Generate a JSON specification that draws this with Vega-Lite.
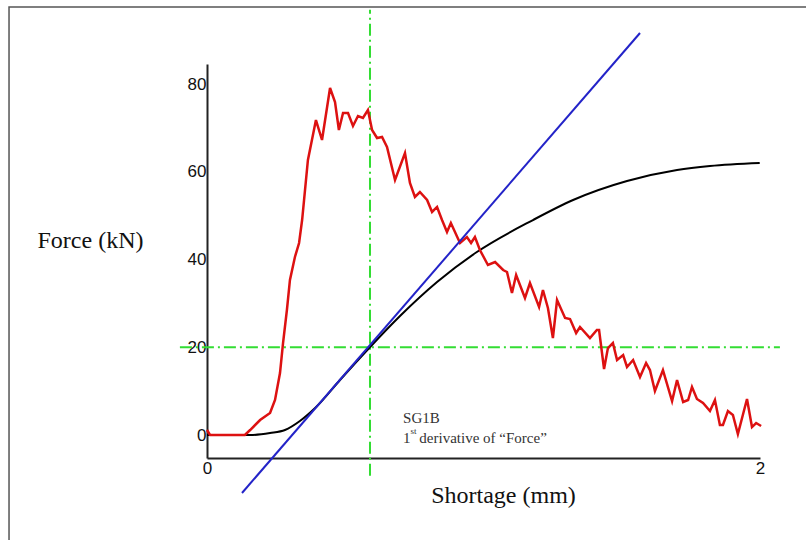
{
  "$schema": "https://vega.github.io/schema/vega-lite/v6.json",
  "width": 553,
  "height": 394,
  "autosize": {"type": "none"},
  "padding": {"left": 207, "top": 64, "right": 46, "bottom": 82},
  "background": "white",
  "config": {
    "view": {"stroke": null},
    "axis": {"grid": false, "ticks": false, "domainColor": "#222", "domainWidth": 2, "labelFont": "Liberation Sans", "labelFontSize": 17, "labelColor": "#111", "titleFont": "Liberation Serif", "titleFontWeight": "normal", "titleFontSize": 24, "titleColor": "#111"}
  },
  "datasets": {
    "red": [
      {"s":0,"f":1.14},{"s":0.011,"f":0},{"s":0.137,"f":0},{"s":0.156,"f":1.14},{"s":0.192,"f":3.42},{"s":0.228,"f":5.01},{"s":0.246,"f":7.98},{"s":0.264,"f":14.13},{"s":0.275,"f":20.97},{"s":0.289,"f":28.49},{"s":0.300,"f":35.33},{"s":0.318,"f":40.57},{"s":0.333,"f":43.76},{"s":0.344,"f":49.0},{"s":0.351,"f":53.56},{"s":0.365,"f":62.68},{"s":0.394,"f":71.79},{"s":0.416,"f":67.24},{"s":0.445,"f":79.09},{"s":0.463,"f":75.9},{"s":0.477,"f":69.52},{"s":0.492,"f":73.39},{"s":0.510,"f":73.39},{"s":0.528,"f":70.43},{"s":0.546,"f":72.71},{"s":0.564,"f":72.25},{"s":0.582,"f":74.07},{"s":0.597,"f":69.52},{"s":0.615,"f":67.69},{"s":0.633,"f":67.92},{"s":0.651,"f":65.64},{"s":0.680,"f":58.12},{"s":0.716,"f":64.27},{"s":0.734,"f":57.44},{"s":0.752,"f":54.25},{"s":0.770,"f":55.38},{"s":0.796,"f":53.56},{"s":0.814,"f":50.83},{"s":0.832,"f":51.97},{"s":0.850,"f":49.0},{"s":0.868,"f":46.27},{"s":0.882,"f":48.32},{"s":0.915,"f":43.76},{"s":0.940,"f":45.13},{"s":0.955,"f":43.76},{"s":0.969,"f":45.13},{"s":0.987,"f":42.17},{"s":1.016,"f":38.75},{"s":1.042,"f":39.43},{"s":1.071,"f":37.61},{"s":1.085,"f":37.15},{"s":1.103,"f":32.36},{"s":1.118,"f":36.47},{"s":1.150,"f":31.23},{"s":1.168,"f":34.64},{"s":1.201,"f":29.17},{"s":1.215,"f":33.05},{"s":1.233,"f":28.95},{"s":1.251,"f":22.11},{"s":1.266,"f":30.77},{"s":1.295,"f":26.67},{"s":1.313,"f":26.44},{"s":1.335,"f":23.25},{"s":1.349,"f":24.62},{"s":1.385,"f":22.11},{"s":1.410,"f":23.93},{"s":1.418,"f":23.93},{"s":1.436,"f":15.04},{"s":1.450,"f":19.83},{"s":1.468,"f":20.97},{"s":1.483,"f":17.09},{"s":1.505,"f":18.23},{"s":1.519,"f":15.5},{"s":1.541,"f":17.09},{"s":1.566,"f":13.22},{"s":1.588,"f":16.41},{"s":1.602,"f":14.81},{"s":1.620,"f":10.03},{"s":1.649,"f":14.81},{"s":1.682,"f":7.75},{"s":1.700,"f":12.54},{"s":1.722,"f":7.52},{"s":1.740,"f":7.98},{"s":1.754,"f":10.94},{"s":1.772,"f":8.21},{"s":1.794,"f":7.29},{"s":1.819,"f":5.47},{"s":1.837,"f":7.98},{"s":1.855,"f":2.28},{"s":1.866,"f":2.28},{"s":1.884,"f":5.47},{"s":1.902,"f":4.56},{"s":1.920,"f":0.23},{"s":1.953,"f":8.21},{"s":1.971,"f":1.82},{"s":1.986,"f":2.74},{"s":2.004,"f":2.05}
    ],
    "black": [
      {"s":0,"f":0},{"s":0.156,"f":0},{"s":0.228,"f":0.46},{"s":0.282,"f":1.14},{"s":0.336,"f":3.19},{"s":0.391,"f":6.15},{"s":0.481,"f":12.54},{"s":0.590,"f":20.06},{"s":0.698,"f":27.12},{"s":0.832,"f":34.87},{"s":0.976,"f":41.71},{"s":1.179,"f":49.0},{"s":1.324,"f":53.56},{"s":1.519,"f":57.89},{"s":1.700,"f":60.4},{"s":1.819,"f":61.31},{"s":1.999,"f":62.0}
    ],
    "blue": [{"s":0.1266,"f":-13.22},{"s":1.566,"f":91.62}],
    "gv": [{"s":0.5895,"f":-9.3},{"s":0.5895,"f":96.9}],
    "gh": [{"s":-0.098,"f":20},{"s":2.072,"f":20}],
    "frame": [{"x1":-0.716,"x2":3.0,"y1":97.55,"y2":-40}],
    "ann": [{"s":0.709,"f":2.735,"t":"SG1B"},{"s":0.709,"f":-1.82,"t":"1"},{"s":0.768,"f":-1.82,"t":"derivative of “Force”"}],
    "sup": [{"s":0.736,"f":0.3,"t":"st"}]
  },
  "layer": [
    {
      "data": {"name": "frame"},
      "mark": {"type": "rect", "fill": null, "stroke": "#555", "strokeWidth": 1.5, "clip": false},
      "encoding": {
        "x": {"field": "x1", "type": "quantitative", "scale": {"domain": [0, 2], "nice": false, "zero": false}, "axis": {"values": [0, 2], "format": "d", "labelFlush": false, "labelPadding": 2, "labelFontSize": 17, "title": "Shortage (mm)", "titleX": 296, "titleY": 37, "titleBaseline": "middle", "titleAlign": "center"}},
        "x2": {"field": "x2"},
        "y": {"field": "y1", "type": "quantitative", "scale": {"domain": [-5.24, 84.56], "nice": false, "zero": false}, "axis": {"values": [0, 20, 40, 60, 80], "format": "d", "labelFlush": false, "labelPadding": 1, "labelFontSize": 17, "title": "Force (kN)", "titleAngle": 0, "titleX": -117, "titleY": 176, "titleAlign": "center", "titleBaseline": "middle"}},
        "y2": {"field": "y2"}
      }
    },
    {
      "data": {"name": "gv"},
      "mark": {"type": "line", "color": "#33dd33", "strokeWidth": 2, "strokeDash": [12, 4, 2, 4], "clip": false},
      "encoding": {"x": {"field": "s", "type": "quantitative"}, "y": {"field": "f", "type": "quantitative"}}
    },
    {
      "data": {"name": "gh"},
      "mark": {"type": "line", "color": "#33dd33", "strokeWidth": 2, "strokeDash": [12, 4, 2, 4], "clip": false},
      "encoding": {"x": {"field": "s", "type": "quantitative"}, "y": {"field": "f", "type": "quantitative"}}
    },
    {
      "data": {"name": "black"},
      "mark": {"type": "line", "color": "#000000", "strokeWidth": 2, "interpolate": "monotone", "clip": false},
      "encoding": {"x": {"field": "s", "type": "quantitative"}, "y": {"field": "f", "type": "quantitative"}}
    },
    {
      "data": {"name": "red"},
      "mark": {"type": "line", "color": "#dd1111", "strokeWidth": 2.5, "clip": false},
      "encoding": {"x": {"field": "s", "type": "quantitative"}, "y": {"field": "f", "type": "quantitative"}}
    },
    {
      "data": {"name": "blue"},
      "mark": {"type": "line", "color": "#2323c8", "strokeWidth": 2, "clip": false},
      "encoding": {"x": {"field": "s", "type": "quantitative"}, "y": {"field": "f", "type": "quantitative"}}
    },
    {
      "data": {"name": "ann"},
      "mark": {"type": "text", "align": "left", "baseline": "alphabetic", "font": "Liberation Serif", "fontSize": 15, "color": "#333"},
      "encoding": {"x": {"field": "s", "type": "quantitative"}, "y": {"field": "f", "type": "quantitative"}, "text": {"field": "t"}}
    },
    {
      "data": {"name": "sup"},
      "mark": {"type": "text", "align": "left", "baseline": "alphabetic", "font": "Liberation Serif", "fontSize": 9, "color": "#333"},
      "encoding": {"x": {"field": "s", "type": "quantitative"}, "y": {"field": "f", "type": "quantitative"}, "text": {"field": "t"}}
    }
  ]
}
